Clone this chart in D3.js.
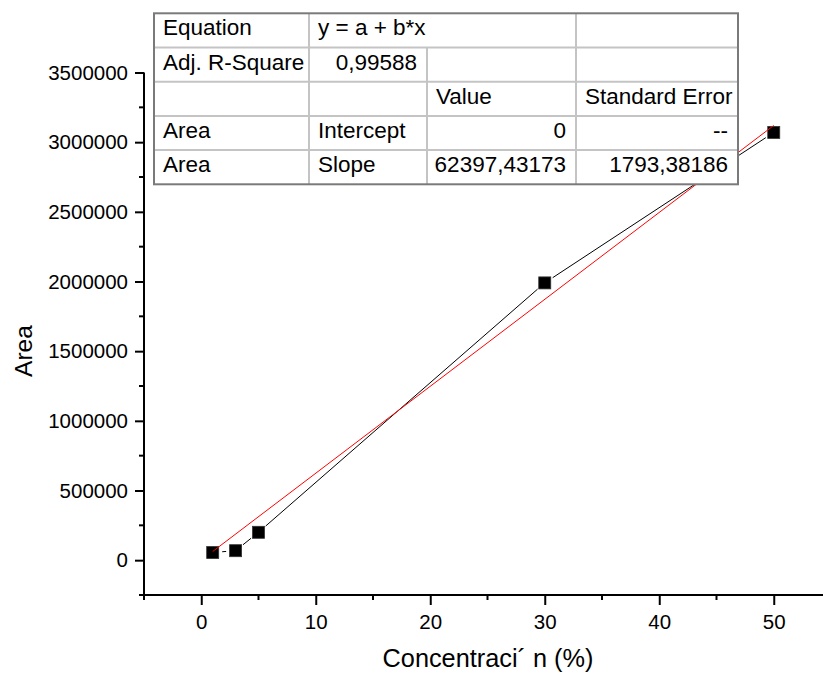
<!DOCTYPE html>
<html>
<head>
<meta charset="utf-8">
<script src="https://cdn.jsdelivr.net/npm/d3@7"></script>
<style>
  body { margin: 0; background: #fff; }
  text { font-family: "Liberation Sans", Arial, sans-serif; fill: #000; }
</style>
</head>
<body>
<div id="chart"></div>
<script>
// data
var concentration = [1, 3, 5, 30, 50];
var area = [55000, 68000, 200000, 1990000, 3070000];
var fitSlope = 62397.43173;
var fitIntercept = 0;
var xTicks = [0, 10, 20, 30, 40, 50];
var yTicks = [0, 500000, 1000000, 1500000, 2000000, 2500000, 3000000, 3500000];

// fit table (rows of cells); null = empty cell
var tableRows = [
    ["Equation", "y = a + b*x", null],
    ["Adj. R-Square", "0,99588", null, null],
    [null, null, "Value", "Standard Error"],
    ["Area", "Intercept", "0", "--"],
    ["Area", "Slope", "62397,43173", "1793,38186"]
];

var svgWidth = 823;
var svgHeight = 673;

var svg = d3.select("#chart")
    .append("svg")
    .attr("width", svgWidth)
    .attr("height", svgHeight);

// scales
var xScale = d3.scaleLinear().domain([-5, 55]).range([144, 144 + 60 * 11.45]);
var yScale = d3.scaleLinear().domain([-250000, 3500000]).range([595, 72.5]);

// axes
var bottomAxis = d3.axisBottom(xScale).tickValues(xTicks).tickSize(10).tickPadding(9);
var leftAxis = d3.axisLeft(yScale).tickValues(yTicks).tickSize(9).tickPadding(7).tickFormat(d3.format("d"));

var xAxisG = svg.append("g")
    .attr("transform", `translate(0, ${yScale(-250000)})`)
    .call(bottomAxis);
var yAxisG = svg.append("g")
    .attr("transform", `translate(${xScale(-5)}, 0)`)
    .call(leftAxis);

[xAxisG, yAxisG].forEach(g => {
    g.select(".domain").attr("stroke", "#000").attr("stroke-width", 2);
    g.selectAll(".tick line").attr("stroke", "#000").attr("stroke-width", 2);
    g.selectAll(".tick text").style("font-size", "20.5px");
});
// plain domain lines (no outer ticks)
xAxisG.select(".domain").attr("d", `M${xScale(-5) - 1},0H${svgWidth + 10}`);
yAxisG.select(".domain").attr("d", `M0,${yScale(3500000)}V${yScale(-250000) + 1}`);

// minor ticks
var xMinor = d3.range(-5, 56, 10);
xAxisG.selectAll(".minor")
    .data(xMinor)
    .enter()
    .append("line")
    .attr("x1", d => xScale(d)).attr("x2", d => xScale(d))
    .attr("y1", 0).attr("y2", 5)
    .attr("stroke", "#000").attr("stroke-width", 2);
var yMinor = d3.range(-250000, 3500001, 500000);
yAxisG.selectAll(".minor")
    .data(yMinor)
    .enter()
    .append("line")
    .attr("y1", d => yScale(d)).attr("y2", d => yScale(d))
    .attr("x1", 0).attr("x2", -5)
    .attr("stroke", "#000").attr("stroke-width", 2);

// axis titles
svg.append("text")
    .attr("x", 488)
    .attr("y", 667)
    .attr("text-anchor", "middle")
    .style("font-size", "25.3px")
    .text("Concentraci\u00B4 n (%)");
svg.append("text")
    .attr("transform", "translate(32, 351) rotate(-90)")
    .attr("text-anchor", "middle")
    .style("font-size", "24.5px")
    .text("Area");

// connecting line with gaps around the markers
var pts = concentration.map((c, i) => [xScale(c), yScale(area[i])]);
var gap = 9.5;
for (var i = 0; i < pts.length - 1; i++) {
    var a = pts[i], b = pts[i + 1];
    var dx = b[0] - a[0], dy = b[1] - a[1];
    var len = Math.sqrt(dx * dx + dy * dy);
    if (len <= 2 * gap) continue;
    var ux = dx / len, uy = dy / len;
    svg.append("line")
        .attr("x1", a[0] + ux * gap).attr("y1", a[1] + uy * gap)
        .attr("x2", b[0] - ux * gap).attr("y2", b[1] - uy * gap)
        .attr("stroke", "#000")
        .attr("stroke-width", 1);
}

// markers
svg.selectAll("rect.pt")
    .data(concentration)
    .enter()
    .append("rect")
    .attr("class", "pt")
    .attr("x", d => xScale(d) - 6)
    .attr("y", (d, i) => yScale(area[i]) - 6)
    .attr("width", 12)
    .attr("height", 12)
    .attr("fill", "#000")
    .attr("stroke", "#333")
    .attr("stroke-width", 0.8);

// linear fit
var fitX = d3.extent(concentration);
svg.append("line")
    .attr("x1", xScale(fitX[0])).attr("y1", yScale(fitIntercept + fitSlope * fitX[0]))
    .attr("x2", xScale(fitX[1])).attr("y2", yScale(fitIntercept + fitSlope * fitX[1]))
    .attr("stroke", "#ff0000")
    .attr("stroke-width", 1);

// fit table
var colX = [154, 309, 427, 576, 738];
var rowY = [13.3, 47.5, 81.7, 116, 150, 184.3];
var table = svg.append("g");
table.append("rect")
    .attr("x", colX[0]).attr("y", rowY[0])
    .attr("width", colX[4] - colX[0]).attr("height", rowY[5] - rowY[0])
    .attr("fill", "#fff");
// horizontal inner lines
rowY.slice(1, 5).forEach(y => {
    table.append("line")
        .attr("x1", colX[0]).attr("x2", colX[4])
        .attr("y1", y).attr("y2", y)
        .attr("stroke", "#c4c4c4").attr("stroke-width", 2);
});
// vertical inner lines (row 1 has a merged cell spanning columns 2-3)
colX.slice(1, 4).forEach((x, ci) => {
    var top = (ci === 1) ? rowY[1] : rowY[0];
    table.append("line")
        .attr("x1", x).attr("x2", x)
        .attr("y1", top).attr("y2", rowY[5])
        .attr("stroke", "#c4c4c4").attr("stroke-width", 2);
});
table.append("rect")
    .attr("x", colX[0]).attr("y", rowY[0])
    .attr("width", colX[4] - colX[0]).attr("height", rowY[5] - rowY[0])
    .attr("fill", "none")
    .attr("stroke", "#7a7a7a").attr("stroke-width", 2);

// cell texts
var rightAligned = { "0,99588": true, "0": true, "--": true, "62397,43173": true, "1793,38186": true };
tableRows.forEach((row, ri) => {
    row.forEach((cell, ci) => {
        if (cell === null) return;
        var x0 = colX[ci], x1 = colX[ci + 1];
        if (ri === 0 && ci === 2) { x0 = colX[3]; x1 = colX[4]; }
        var right = rightAligned[cell];
        table.append("text")
            .attr("x", right ? x1 - 10 : x0 + 9)
            .attr("y", rowY[ri] + 22)
            .attr("text-anchor", right ? "end" : "start")
            .style("font-size", "22.5px")
            .text(cell);
    });
});
</script>
</body>
</html>
